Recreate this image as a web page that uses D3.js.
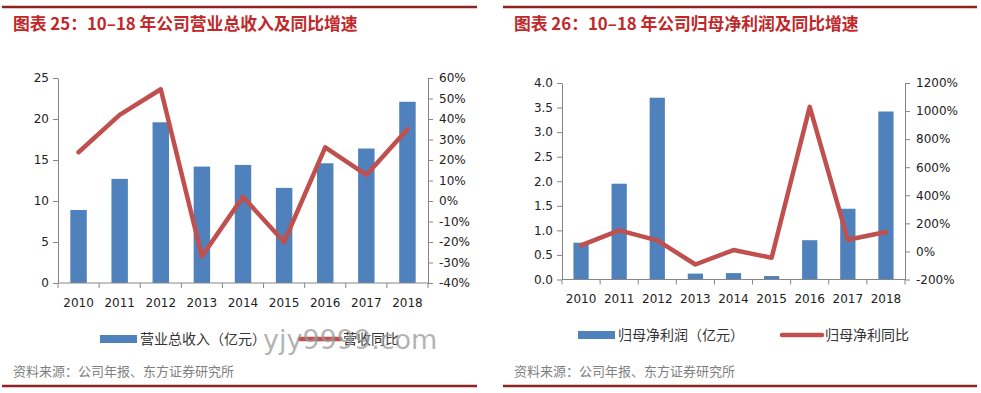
<!DOCTYPE html>
<html><head><meta charset="utf-8">
<script src="https://cdn.jsdelivr.net/npm/d3@7"></script>
<style>
body{margin:0;background:#fff;}
svg{display:block;}
</style></head>
<body>
<svg id="c" width="981" height="393"></svg>
<script>
const years = ['2010','2011','2012','2013','2014','2015','2016','2017','2018'];
const revenue = [8.9, 12.7, 19.6, 14.2, 14.4, 11.6, 14.6, 16.4, 22.1];
const revenueYoY = [23.8, 42, 54.5, -27, 2, -20, 26.2, 12.7, 35];
const profit = [0.75, 1.95, 3.70, 0.12, 0.13, 0.07, 0.80, 1.44, 3.42];
const profitYoY = [43, 150, 79, -93, 10, -45, 1030, 83, 138];
const revTicks = [0,5,10,15,20,25];
const revYoYTicks = [-40,-30,-20,-10,0,10,20,30,40,50,60];
const profTicks = [0,0.5,1,1.5,2,2.5,3,3.5,4];
const profYoYTicks = [-200,0,200,400,600,800,1000,1200];

const svg = d3.select('#c');
const BLUE = '#4f81bd', RED = '#c0504d', RULE = '#8e2323', TITLE = '#c0282a';
const FONT = '"DejaVu Sans", Verdana, sans-serif';
const CJK = '"Noto Sans CJK SC", "Noto Sans", sans-serif';

function panel(cfg){
  const g = svg.append('g');
  g.append('line').attr('x1',cfg.ruleX0).attr('x2',cfg.ruleX1).attr('y1',7).attr('y2',7)
    .attr('stroke',RULE).attr('stroke-width',2.5);
  g.append('line').attr('x1',cfg.ruleX0).attr('x2',cfg.ruleX1).attr('y1',386).attr('y2',386)
    .attr('stroke',RULE).attr('stroke-width',2.5);
  g.append('text').attr('x',cfg.titleX).attr('y',30).text(cfg.title)
    .attr('font-family',CJK).attr('font-size',16.8).attr('font-weight','bold').attr('fill',TITLE);
  g.append('text').attr('x',cfg.titleX).attr('y',376).text('资料来源：公司年报、东方证券研究所')
    .attr('font-family',CJK).attr('font-size',13).attr('fill','#7f7f7f');

  const x = d3.scaleBand().domain(years).range([cfg.x0,cfg.x1]).padding(0);
  const yL = d3.scaleLinear().domain(cfg.lDom).range([cfg.yb,cfg.yt]);
  const yR = d3.scaleLinear().domain(cfg.rDom).range([cfg.yb,cfg.yt]);
  const bw = x.bandwidth()*0.4;

  g.selectAll('rect.bar').data(cfg.bars).join('rect').attr('class','bar')
    .attr('x',(d,i)=>x(years[i])+x.bandwidth()/2-bw/2)
    .attr('y',d=>yL(d)).attr('width',bw).attr('height',d=>yL(0)-yL(d))
    .attr('fill',BLUE);

  const axColor = '#868686';
  const la = g.append('g').attr('transform',`translate(${cfg.x0},0)`)
    .call(d3.axisLeft(yL).tickValues(cfg.lTicks).tickSize(5).tickSizeOuter(0).tickPadding(4).tickFormat(cfg.lFmt));
  const ra = g.append('g').attr('transform',`translate(${cfg.x1},0)`)
    .call(d3.axisRight(yR).tickValues(cfg.rTicks).tickSize(5).tickSizeOuter(0).tickPadding(6).tickFormat(d=>d+'%'));
  const bandEdges = d3.range(years.length+1).map(i=>cfg.x0+i*x.bandwidth());
  const xa = g.append('g').attr('transform',`translate(0,${cfg.yb})`);
  xa.append('line').attr('x1',cfg.x0).attr('x2',cfg.x1).attr('stroke',axColor);
  xa.selectAll('line.t').data(bandEdges).join('line').attr('class','t')
    .attr('x1',d=>d).attr('x2',d=>d).attr('y1',0).attr('y2',5).attr('stroke',axColor);
  xa.selectAll('text').data(years).join('text')
    .attr('x',d=>x(d)+x.bandwidth()/2).attr('y',cfg.xLabelY-cfg.yb)
    .attr('text-anchor','middle').text(d=>d)
    .attr('font-family',FONT).attr('font-size',12).attr('fill','#222');
  [la,ra].forEach(a=>{
    a.selectAll('path,line').attr('stroke',axColor);
    a.selectAll('text').attr('font-family',FONT).attr('font-size',12).attr('fill','#222');
  });

  const line = d3.line().x((d,i)=>x(years[i])+x.bandwidth()/2).y(d=>yR(d));
  g.append('path').datum(cfg.line).attr('d',line).attr('fill','none')
    .attr('stroke',RED).attr('stroke-width',4.5).attr('stroke-linejoin','round').attr('stroke-linecap','round');

  const lg = g.append('g');
  lg.append('rect').attr('x',cfg.legX).attr('y',cfg.legY-4).attr('width',37).attr('height',8).attr('fill',BLUE);
  lg.append('text').attr('x',cfg.legX+40).attr('y',cfg.legY+5).text(cfg.legBar)
    .attr('font-family',CJK).attr('font-size',14).attr('fill','#333');
  lg.append('line').attr('x1',cfg.legX2).attr('x2',cfg.legX2+40).attr('y1',cfg.legY).attr('y2',cfg.legY)
    .attr('stroke',RED).attr('stroke-width',4.5).attr('stroke-linecap','round');
  lg.append('text').attr('x',cfg.legX2+43).attr('y',cfg.legY+5).text(cfg.legLine)
    .attr('font-family',CJK).attr('font-size',14).attr('fill','#333');
  return g;
}

panel({ruleX0:2, ruleX1:477, titleX:13, title:'图表 25：10–18 年公司营业总收入及同比增速',
  x0:58, x1:428, yt:78, yb:283, lDom:[0,25], rDom:[-40,60], bars:revenue, line:revenueYoY,
  lTicks:revTicks, rTicks:revYoYTicks, lFmt:d=>d, xLabelY:307,
  legX:100, legX2:300, legY:339, legBar:'营业总收入（亿元）', legLine:'营收同比'});

panel({ruleX0:503, ruleX1:977, titleX:514, title:'图表 26：10–18 年公司归母净利润及同比增速',
  x0:562, x1:905, yt:83, yb:279.5, lDom:[0,4], rDom:[-200,1200], bars:profit, line:profitYoY,
  lTicks:profTicks, rTicks:profYoYTicks, lFmt:d=>d.toFixed(1), xLabelY:303,
  legX:578, legX2:782, legY:335, legBar:'归母净利润（亿元）', legLine:'归母净利同比'});

svg.append('text').attr('x',263).attr('y',349).text('yjy9999.com')
  .attr('font-family','"DejaVu Sans", sans-serif').attr('font-size',27)
  .attr('fill','#9a9a9a').attr('fill-opacity',0.75);
</script>
</body></html>
